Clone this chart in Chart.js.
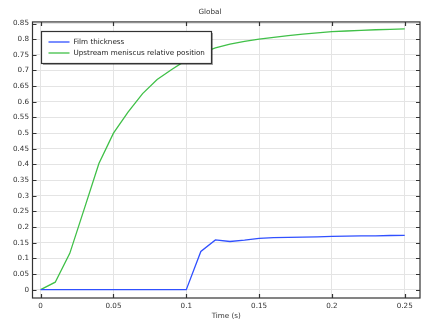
<!DOCTYPE html>
<html>
<head>
<meta charset="utf-8">
<script src="https://cdn.jsdelivr.net/npm/chart.js@4/dist/chart.umd.min.js"></script>
<style>
  html, body { margin: 0; padding: 0; background: #fff; }
  #wrap { width: 432px; height: 336px; }
</style>
</head>
<body>
<div id="wrap"><canvas id="globalChart" width="432" height="336"></canvas></div>
<script>
// time samples (s)
const time = [0, 0.01, 0.02, 0.03, 0.04, 0.05, 0.06, 0.07, 0.08, 0.09, 0.1,
  0.11, 0.12, 0.13, 0.14, 0.15, 0.16, 0.17, 0.18, 0.19, 0.2,
  0.21, 0.22, 0.23, 0.24, 0.25];
const filmThickness = [0, 0, 0, 0, 0, 0, 0, 0, 0, 0, 0,
  0.122, 0.159, 0.154, 0.158, 0.164, 0.166, 0.167, 0.168, 0.169, 0.170,
  0.171, 0.172, 0.172, 0.173, 0.1735];
const meniscusPos = [0, 0.024, 0.116, 0.259, 0.403, 0.5, 0.567, 0.626, 0.671, 0.703, 0.733,
  0.755, 0.772, 0.784, 0.793, 0.8, 0.806, 0.811, 0.816, 0.82, 0.824,
  0.826, 0.828, 0.83, 0.831, 0.833];
const seriesNames = ['Film thickness', 'Upstream meniscus relative position'];
const xTicks = [0, 0.05, 0.1, 0.15, 0.2, 0.25];
const yTicks = [0, 0.05, 0.1, 0.15, 0.2, 0.25, 0.3, 0.35, 0.4, 0.45, 0.5,
  0.55, 0.6, 0.65, 0.7, 0.75, 0.8, 0.85];

const FONT = 'DejaVu Sans';
const FSIZE = 7.2;
const BLUE = 'rgb(48,80,255)';
const GREEN = 'rgb(64,192,72)';

function pairs(ys) {
  return time.map((t, i) => ({ x: t, y: ys[i] }));
}

// frame + inward ticks on all four sides
const framePlugin = {
  id: 'frame',
  afterDatasetsDraw(chart) {
    const ctx = chart.ctx;
    const a = chart.chartArea;
    const xs = chart.scales.x, ys = chart.scales.y;
    ctx.save();
    ctx.strokeStyle = '#333';
    ctx.lineWidth = 1.2;
    ctx.strokeRect(a.left, a.top, a.right - a.left, a.bottom - a.top);
    ctx.beginPath();
    xTicks.forEach(v => {
      const px = Math.round(xs.getPixelForValue(v)) + 0.5;
      ctx.moveTo(px, a.bottom); ctx.lineTo(px, a.bottom - 4);
      ctx.moveTo(px, a.top); ctx.lineTo(px, a.top + 4);
    });
    yTicks.forEach(v => {
      const py = Math.round(ys.getPixelForValue(v)) + 0.5;
      ctx.moveTo(a.left, py); ctx.lineTo(a.left + 4, py);
      ctx.moveTo(a.right, py); ctx.lineTo(a.right - 4, py);
    });
    ctx.stroke();
    ctx.restore();
  }
};

// boxed legend inside the plot, upper left
const boxLegend = {
  id: 'boxLegend',
  afterDraw(chart) {
    const ctx = chart.ctx;
    const bx = 41.5, by = 31.5, bw = 170, bh = 32;
    ctx.save();
    ctx.fillStyle = 'rgba(0,0,0,0.35)';
    ctx.fillRect(bx + 1.5, by + 1.5, bw, bh);
    ctx.fillStyle = '#fff';
    ctx.fillRect(bx, by, bw, bh);
    ctx.strokeStyle = '#333';
    ctx.lineWidth = 1.2;
    ctx.strokeRect(bx, by, bw, bh);
    ctx.font = FSIZE + 'px "' + FONT + '"';
    ctx.textBaseline = 'middle';
    chart.data.datasets.forEach((ds, i) => {
      const y = by + 10.5 + i * 11;
      ctx.strokeStyle = ds.borderColor;
      ctx.lineWidth = 1.3;
      ctx.beginPath();
      ctx.moveTo(bx + 7, y); ctx.lineTo(bx + 28, y);
      ctx.stroke();
      ctx.fillStyle = '#222';
      ctx.fillText(ds.label, bx + 32, y);
    });
    ctx.restore();
  }
};

new Chart(document.getElementById('globalChart').getContext('2d'), {
  type: 'line',
  data: {
    datasets: [
      { label: seriesNames[0], data: pairs(filmThickness), borderColor: BLUE, borderWidth: 1.3, pointRadius: 0, fill: false, tension: 0 },
      { label: seriesNames[1], data: pairs(meniscusPos), borderColor: GREEN, borderWidth: 1.3, pointRadius: 0, fill: false, tension: 0 }
    ]
  },
  options: {
    responsive: false,
    animation: false,
    events: [],
    layout: { padding: { left: 0, right: 12, top: 0, bottom: 16 } },
    plugins: {
      legend: { display: false },
      tooltip: { enabled: false },
      title: {
        display: true,
        text: 'Global',
        color: '#333',
        font: { family: FONT, size: FSIZE, weight: 'normal' },
        padding: { top: 7.5, bottom: 5.8 }
      }
    },
    scales: {
      x: {
        type: 'linear',
        min: -0.0056,
        max: 0.2605,
        afterBuildTicks: s => { s.ticks = xTicks.map(v => ({ value: v })); },
        afterFit: s => { s.height = 22; },
        grid: { color: '#e4e4e4', drawTicks: false },
        border: { display: false },
        ticks: {
          padding: 4,
          color: '#333',
          maxRotation: 0,
          font: { family: FONT, size: FSIZE },
          callback: v => String(v)
        },
        title: {
          display: true,
          text: 'Time (s)',
          color: '#333',
          font: { family: FONT, size: FSIZE },
          padding: { top: 1, bottom: 0 }
        }
      },
      y: {
        min: -0.0265,
        max: 0.855,
        afterBuildTicks: s => { s.ticks = yTicks.map(v => ({ value: v })); },
        afterFit: s => { s.width = 32.5; },
        grid: { color: '#e4e4e4', drawTicks: false },
        border: { display: false },
        ticks: {
          padding: 3.5,
          color: '#333',
          font: { family: FONT, size: FSIZE },
          callback: v => String(v)
        }
      }
    }
  },
  plugins: [framePlugin, boxLegend]
});
</script>
</body>
</html>
